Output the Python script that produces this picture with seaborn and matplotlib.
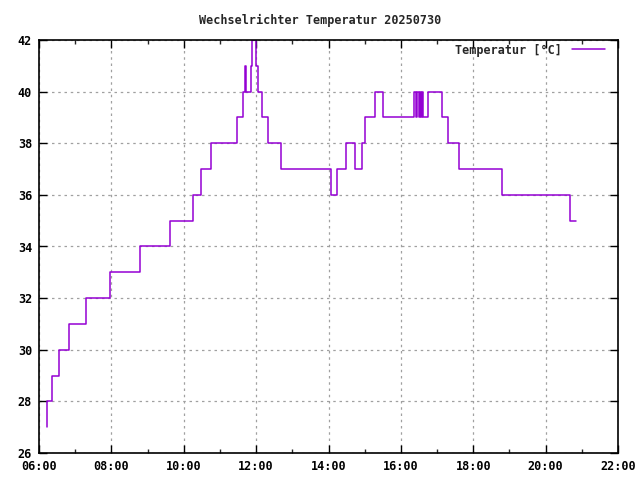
import matplotlib
matplotlib.use("Agg")
import matplotlib.pyplot as plt
import seaborn as sns
import pandas as pd
import numpy as np

# ---- data ----
times = ["06:13", "06:14", "06:21", "06:33", "06:50", "07:18", "07:57", "08:48",
         "09:38", "10:16", "10:29", "10:46", "11:29", "11:39", "11:42", "11:44",
         "11:52", "11:53", "11:59", "12:03", "12:10", "12:20", "12:42", "14:04",
         "14:14", "14:29", "14:44", "14:56", "15:01", "15:17", "15:30", "16:22",
         "16:25", "16:27", "16:30", "16:32", "16:34", "16:35", "16:36", "16:45",
         "17:08", "17:18", "17:37", "18:47", "20:41", "20:50"]
temps = [27, 28, 29, 30, 31, 32, 33, 34,
         35, 36, 37, 38, 39, 40, 41, 40,
         41, 42, 41, 40, 39, 38, 37, 36,
         37, 38, 37, 38, 39, 40, 39, 40,
         39, 40, 39, 40, 39, 40, 39, 40,
         39, 38, 37, 36, 35, 35]
xtick_labels = ["06:00", "08:00", "10:00", "12:00", "14:00", "16:00", "18:00", "20:00", "22:00"]
yticks = [26, 28, 30, 32, 34, 36, 38, 40, 42]
title = "Wechselrichter Temperatur 20250730"
series_label = "Temperatur [°C]"

def to_hours(s):
    h, m = s.split(":")
    return int(h) + int(m) / 60.0

df = pd.DataFrame({"t": [to_hours(t) for t in times], "temp": temps})
xticks = [to_hours(t) for t in xtick_labels]

sns.set_style("white")
plt.rcParams["font.family"] = ["DejaVu Sans Mono"]

fig = plt.figure(figsize=(6.4, 4.8), dpi=100)
ax = fig.add_axes([39 / 640, 1 - 453 / 480, (618 - 39) / 640, (453 - 40) / 480])

sns.lineplot(data=df, x="t", y="temp", ax=ax, drawstyle="steps-post",
             color="#9400D3", linewidth=1.1, label=series_label, estimator=None)

ax.set_xlim(6, 22)
ax.set_ylim(26, 42)
ax.set_xticks(xticks)
ax.set_xticklabels(xtick_labels)
ax.set_xticks(np.arange(7, 22, 2), minor=True)
ax.set_yticks(yticks)
ax.set_yticklabels([str(v) for v in yticks])
ax.set_xlabel("")
ax.set_ylabel("")

ax.grid(True, which="major", color="#a0a0a0", linestyle=(0, (2, 3)), linewidth=0.9)
ax.tick_params(which="major", direction="in", length=6, width=1, top=True, right=True,
               bottom=True, left=True, labelsize=8.5, pad=5, colors="black")
ax.tick_params(which="minor", direction="in", length=3, width=1, top=True, bottom=True)
for lab in ax.get_xticklabels() + ax.get_yticklabels():
    lab.set_fontweight("bold")
for sp in ax.spines.values():
    sp.set_visible(True)
    sp.set_color("black")
    sp.set_linewidth(1.2)

fig.text(0.5, 1 - 20 / 480, title, ha="center", va="center", fontsize=8.5,
         fontweight="bold")

leg = ax.legend(loc="upper right", bbox_to_anchor=(0.983, 1.0), frameon=False,
                markerfirst=False, prop={"size": 8.5, "weight": "bold"},
                handlelength=2.8, borderaxespad=0.0, handletextpad=0.8,
                borderpad=0.3)

fig.savefig("out.png", dpi=100)
